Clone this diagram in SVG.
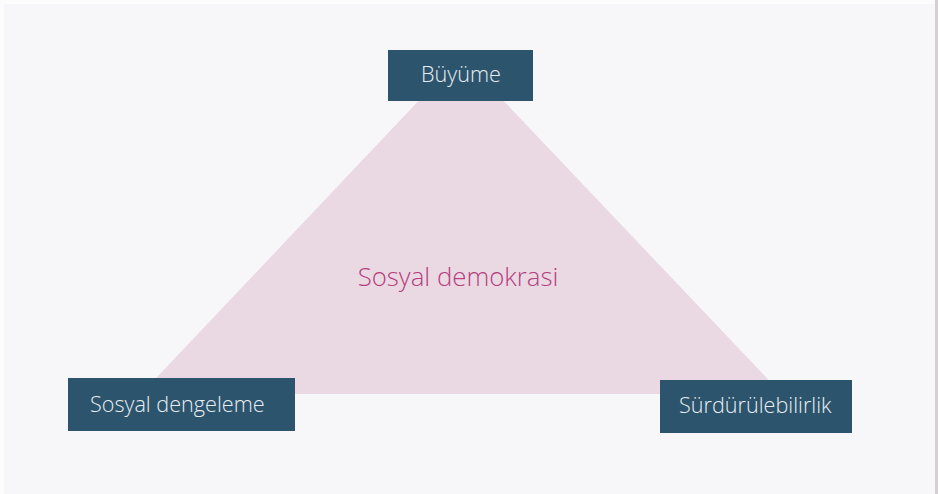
<svg xmlns="http://www.w3.org/2000/svg" width="938" height="494" viewBox="0 0 938 494">
<style>
.box{fill:#2d546d}
.lbl{font-family:"Open Sans","Liberation Sans",sans-serif;font-size:21.6px;font-weight:300;fill:#e8eef3}
.center{font-family:"Open Sans","Liberation Sans",sans-serif;font-size:25.8px;font-weight:300;fill:#b5407f}
</style>
<rect x="0" y="0" width="938" height="494" fill="#fcfcfd"/>
<rect x="4" y="4" width="931" height="490" fill="#f7f7f9"/>
<rect x="935" y="0" width="3" height="494" fill="#d6cfd3"/>
<g id="triangle">
<polygon points="461,56 141,394 782,394" fill="#ead9e3"/>
<text class="center" x="458" y="286" text-anchor="middle">Sosyal demokrasi</text>
</g>
<g id="connectors"></g>
<g id="node-buyume">
<rect class="box" x="388" y="50" width="145" height="51"/>
<text class="lbl" x="461" y="82" text-anchor="middle">Büyüme</text>
</g>
<g id="node-sosyal-dengeleme">
<rect class="box" x="68" y="378" width="227" height="53"/>
<text class="lbl" x="90" y="412">Sosyal dengeleme</text>
</g>
<g id="node-surdurulebilirlik">
<rect class="box" x="660" y="380" width="192" height="53"/>
<text class="lbl" x="679" y="413">Sürdürülebilirlik</text>
</g>
</svg>
